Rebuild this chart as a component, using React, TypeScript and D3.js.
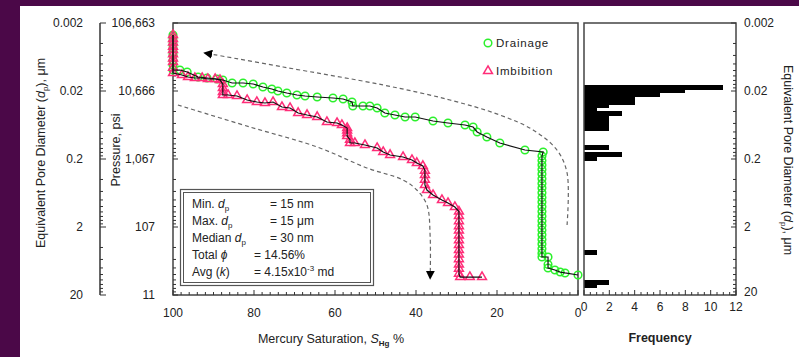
import React from 'react';
import * as d3 from 'd3';

const W = 799;
const H = 357;

// drainage (mercury injection): saturation %, pressure psi
const drainSat = [100, 100, 100, 100, 100, 100, 100, 100, 100, 100, 98.3, 96.5, 93.8, 91.6, 89.1, 87.7, 85.4, 82.7, 80.2, 77.8, 75.6, 74.1, 71.9, 69.4, 67.4, 64.4, 60.5, 58.0, 55.8, 55.6, 53.1, 51.4, 49.6, 47.7, 45.2, 42.7, 40.2, 35.8, 32.1, 27.9, 25.9, 24.9, 22.5, 19.3, 13.1, 8.6,
  8.9, 8.9, 8.9, 8.9, 8.9, 8.9, 8.9, 8.9, 8.9, 8.9, 8.9, 8.9, 8.9, 8.9, 8.9, 8.9, 8.9, 8.9, 8.9, 8.9, 8.9, 8.9, 8.9, 7.4, 7.4, 7.4, 5.7, 4.4, 3.2, 0];
const drainPres = [71050, 64000, 57000, 50650, 45000, 40000, 36090, 30000, 25730, 21720, 21700, 20300, 17140, 16570, 16010, 15480, 13990, 13990, 13520, 12210, 11410, 10670, 9970, 9316, 9006, 8706, 8416, 8135, 7350, 6418, 6418, 6418, 5998, 5066, 4734, 4424, 4424, 3863, 3610, 3373, 3152, 2662, 2247, 1834, 1447, 1352,
  1180, 1010, 870, 750, 640, 545, 465, 400, 340, 290, 248, 212, 180, 154, 131, 112, 96, 82, 70, 60, 51, 44, 38.6, 38.6, 30, 26.6, 24.9, 23.2, 22.5, 21.0];

// imbibition (mercury withdrawal)
const imbSat = [100, 100, 100, 100, 100, 100, 100, 100, 100, 100, 97.8, 96.3, 94.6, 92.8, 91.4, 89.6, 88.4, 87.7, 87.7, 87.7, 87.7, 86.4, 84.2, 81.7, 79.3, 77.3, 75.3, 73.1, 71.1, 69.1, 66.9, 64.4, 62.0, 59.5, 58.3, 57.0, 57.0, 57.0, 57.0, 56.3, 56.3, 55.1, 52.6, 49.6, 48.1, 46.4, 43.2, 41.0, 39.8, 38.3, 37.8, 37.8, 37.8, 37.8, 37.3, 35.8, 33.6, 32.1, 30.4,
  29.4, 29.4, 29.4, 29.4, 29.4, 29.4, 29.4, 29.4, 29.4, 29.4, 29.4, 29.4, 29.4, 29.4, 29.1, 26.7, 23.7];
const imbPres = [71050, 62000, 55000, 48000, 42760, 37000, 32000, 28480, 23500, 19620, 18340, 17140, 16570, 16570, 16010, 16010, 15480, 13500, 11800, 10300, 9316, 9316, 9006, 7865, 7350, 7105, 7350, 6205, 5998, 5066, 4734, 4424, 3734, 3610, 3373, 3047, 2800, 2550, 2324, 2050, 1834, 1834, 1714, 1548, 1352, 1222, 1141, 1031, 932, 842, 720, 621, 530, 443, 373, 315, 266, 240, 210,
  180, 155, 130, 110, 95, 80, 68, 58, 49, 42, 36, 30, 26, 22, 19.6, 19.6, 19.6];

// annotation arrows (saturation %, pressure psi)
const arrowUpSat = [2.7, 2.7, 5.2, 11.1, 19.3, 31.6, 48.1, 72.8, 92.1];
const arrowUpPres = [114, 664, 1447, 2848, 4734, 7865, 13070, 24040, 38630];
const arrowDownSat = [98.8, 81.0, 64.4, 52.1, 43.2, 39.8, 37.3, 36.5, 36.5];
const arrowDownPres = [6641, 3152, 1602, 787, 524, 373, 225, 76, 19];

// pore size histogram: bin upper diameter (µm) and frequency
const binTop = [0.0163, 0.0185, 0.0210, 0.0239, 0.0271, 0.0307, 0.0349, 0.0396, 0.0450, 0.0510, 0.0579, 0.0657, 0.124, 0.160, 0.181, 4.34, 11.96, 13.6];
const binCount = [11, 8, 6, 4, 4, 2, 1, 3, 2, 2, 2, 2, 2, 3, 1, 1, 2, 1];
const binLogWidth = 0.055;

// tick labels
const diamTicks = [0.002, 0.02, 0.2, 2, 20];
const diamLabels = ['0.002', '0.02', '0.2', '2', '20'];
const presTicks = [106663, 10666.3, 1066.63, 106.663, 10.6663];
const presLabels = ['106,663', '10,666', '1,067', '107', '11'];
const satTicks = [100, 80, 60, 40, 20, 0];
const freqTicks = [0, 2, 4, 6, 8, 10, 12];

const FONT = '"Liberation Sans", Arial, sans-serif';
const GREEN = '#2cf02c';
const PINK = '#ff2d78';

export default function App() {
  const x = d3.scaleLinear().domain([100, 0]).range([173, 578]);
  const yP = d3.scaleLog().domain([10.6663, 106663]).range([295, 23]);
  const yD = d3.scaleLog().domain([0.002, 20]).range([23, 295]);
  const xF = d3.scaleLinear().domain([0, 12]).range([584, 736]);

  const minorD = d3.range(4).flatMap(k => d3.range(2, 10).map(m => 0.002 * Math.pow(10, k) * m));
  const minorSat = d3.range(0, 101, 2).filter(v => v % 20 !== 0);
  const minorFreq = d3.range(0, 12.01, 0.5).filter(v => v % 2 !== 0);

  const drain: [number, number][] = drainSat.map((s, i) => [s, drainPres[i]]);
  const imb: [number, number][] = imbSat.map((s, i) => [s, imbPres[i]]);
  const line = d3.line<[number, number]>().x(d => x(d[0])).y(d => yP(d[1]));
  const curve = d3.line<[number, number]>().x(d => x(d[0])).y(d => yP(d[1])).curve(d3.curveCatmullRom);
  const arrowUp: [number, number][] = arrowUpSat.map((s, i) => [s, arrowUpPres[i]]);
  const arrowDown: [number, number][] = arrowDownSat.map((s, i) => [s, arrowDownPres[i]]);
  const tri = d3.symbol().type(d3.symbolTriangle).size(34)();

  const [top, bottom] = [23, 295];

  return (
    <svg width={W} height={H} style={{ position: 'absolute', left: 0, top: 0 }} fontFamily={FONT}>
      <defs>
        <marker id="ah" viewBox="0 0 10 10" refX="8" refY="5" markerWidth="9" markerHeight="9"
          markerUnits="userSpaceOnUse" orient="auto">
          <path d="M0,0L10,5L0,10Z" fill="#000" />
        </marker>
      </defs>
      <rect x={0} y={0} width={W} height={H} fill="#4b0848" />
      <rect x={20} y={6} width={W - 20} height={H - 6} fill="#fff" />

      {/* left pore diameter labels */}
      {diamTicks.map((d, i) => (
        <text key={'dl' + i} x={83} y={yD(d) + 4} textAnchor="end" fontSize={12} fill="#222">{diamLabels[i]}</text>
      ))}
      <text transform="translate(45,153) rotate(-90)" textAnchor="middle" fontSize={12.5} fill="#222">
        Equivalent Pore Diameter (<tspan fontStyle="italic">d</tspan><tspan fontSize={8} dy={3}>p</tspan><tspan dy={-3}>), μm</tspan>
      </text>

      {/* pressure axis */}
      <line x1={100} x2={100} y1={top} y2={bottom} stroke="#333" strokeWidth={1.5} />
      {presTicks.map((p, i) => (
        <g key={'pt' + i}>
          <line x1={100} x2={106} y1={yP(p)} y2={yP(p)} stroke="#333" />
          <text x={155} y={yP(p) + 4} textAnchor="end" fontSize={12} fill="#222">{presLabels[i]}</text>
        </g>
      ))}
      {minorD.map((d, i) => (
        <line key={'pm' + i} x1={100} x2={103} y1={yD(d)} y2={yD(d)} stroke="#333" />
      ))}
      <text transform="translate(120,150) rotate(-90)" textAnchor="middle" fontSize={12.5} fill="#222">Pressure, psi</text>

      {/* main plot frame */}
      <rect x={173} y={top} width={405} height={bottom - top} fill="none" stroke="#444" strokeWidth={1.5} />
      {diamTicks.map((d, i) => (
        <line key={'lm' + i} x1={173} x2={178} y1={yD(d)} y2={yD(d)} stroke="#333" />
      ))}
      {minorD.map((d, i) => (
        <line key={'ln' + i} x1={173} x2={176} y1={yD(d)} y2={yD(d)} stroke="#333" />
      ))}
      {satTicks.map(s => (
        <g key={'st' + s}>
          <line x1={x(s)} x2={x(s)} y1={bottom} y2={bottom - 5} stroke="#333" />
          <text x={x(s)} y={317} textAnchor="middle" fontSize={12} fill="#222">{s}</text>
        </g>
      ))}
      {minorSat.map(s => (
        <line key={'sm' + s} x1={x(s)} x2={x(s)} y1={bottom} y2={bottom - 3} stroke="#333" />
      ))}
      <text x={331} y={343} textAnchor="middle" fontSize={12.5} fill="#222">
        Mercury Saturation, <tspan fontStyle="italic">S</tspan><tspan fontSize={8} fontWeight="bold" dy={3}>Hg</tspan><tspan dy={-3}> %</tspan>
      </text>

      {/* dashed arrows */}
      <path d={curve(arrowUp) || ''} fill="none" stroke="#666" strokeWidth={1.2} strokeDasharray="4 3" markerEnd="url(#ah)" />
      <path d={curve(arrowDown) || ''} fill="none" stroke="#666" strokeWidth={1.2} strokeDasharray="4 3" markerEnd="url(#ah)" />

      {/* drainage */}
      {drain.map((d, i) => (
        <circle key={'dc' + i} cx={x(d[0])} cy={yP(d[1])} r={3.8} fill="none" stroke={GREEN} strokeWidth={1.5} />
      ))}
      {/* imbibition */}
      {imb.map((d, i) => (
        <path key={'it' + i} d={tri || ''} transform={`translate(${x(d[0])},${yP(d[1])})`} fill="none" stroke={PINK} strokeWidth={1.5} />
      ))}
      <path d={line(drain) || ''} fill="none" stroke="#111" strokeWidth={1.2} />
      <path d={line(imb) || ''} fill="none" stroke="#111" strokeWidth={1.2} />

      {/* legend */}
      <circle cx={488} cy={43} r={3.8} fill="none" stroke={GREEN} strokeWidth={1.5} />
      <text x={496} y={47} fontSize={11.5} letterSpacing={0.8} fill="#222">Drainage</text>
      <path d={tri || ''} transform="translate(488,71)" fill="none" stroke={PINK} strokeWidth={1.5} />
      <text x={496} y={75} fontSize={11.5} letterSpacing={0.8} fill="#222">Imbibition</text>

      {/* stats box */}
      <rect x={180.5} y={189.5} width={193} height={96} fill="#fff" stroke="#555" strokeWidth={1.2} />
      <rect x={183.5} y={192.5} width={187} height={90} fill="none" stroke="#555" strokeWidth={1} />
      <g fontSize={12} fill="#222">
        <text x={192} y={208}>Min. <tspan fontStyle="italic">d</tspan><tspan fontSize={8} dy={3}>p</tspan></text>
        <text x={270} y={208}>= 15 nm</text>
        <text x={192} y={225}>Max. <tspan fontStyle="italic">d</tspan><tspan fontSize={8} dy={3}>p</tspan></text>
        <text x={270} y={225}>= 15 μm</text>
        <text x={192} y={242}>Median <tspan fontStyle="italic">d</tspan><tspan fontSize={8} dy={3}>p</tspan></text>
        <text x={270} y={242}>= 30 nm</text>
        <text x={192} y={259}>Total <tspan fontStyle="italic">ϕ</tspan></text>
        <text x={254} y={259}>= 14.56%</text>
        <text x={192} y={276}>Avg (<tspan fontStyle="italic">k</tspan>)</text>
        <text x={254} y={276}>= 4.15x10<tspan fontSize={8} dy={-5}>-3</tspan><tspan dy={5}> md</tspan></text>
      </g>

      {/* histogram */}
      <g shapeRendering="crispEdges">
        {binTop.map((d, i) => {
          const y0 = Math.round(yD(d));
          const y1 = Math.round(yD(d * Math.pow(10, binLogWidth)));
          return <rect key={'b' + i} x={xF(0)} y={y0} width={xF(binCount[i]) - xF(0)} height={y1 - y0 + 0.5} fill="#000" />;
        })}
      </g>
      <rect x={584} y={top} width={152} height={bottom - top} fill="none" stroke="#444" strokeWidth={1.5} />
      {diamTicks.map((d, i) => (
        <g key={'rt' + i}>
          <line x1={736} x2={731} y1={yD(d)} y2={yD(d)} stroke="#333" />
          <text x={744} y={yD(d) + (i === 4 ? 1 : 4)} fontSize={12} fill="#222">{diamLabels[i]}</text>
        </g>
      ))}
      {minorD.map((d, i) => (
        <line key={'rm' + i} x1={736} x2={733} y1={yD(d)} y2={yD(d)} stroke="#333" />
      ))}
      {freqTicks.map(f => (
        <g key={'ft' + f}>
          <line x1={xF(f)} x2={xF(f)} y1={bottom} y2={bottom - 5} stroke="#333" />
          <text x={xF(f)} y={311} textAnchor="middle" fontSize={12} fill="#222">{f}</text>
        </g>
      ))}
      {minorFreq.map(f => (
        <line key={'fm' + f} x1={xF(f)} x2={xF(f)} y1={bottom} y2={bottom - 3} stroke="#333" />
      ))}
      <text x={660} y={342} textAnchor="middle" fontSize={12.5} fontWeight="bold" fill="#222">Frequency</text>
      <text transform="translate(784,160) rotate(90)" textAnchor="middle" fontSize={12.5} fill="#222">
        Equivalent Pore Diameter (<tspan fontStyle="italic">d</tspan><tspan fontSize={8} dy={3}>p</tspan><tspan dy={-3}>), μm</tspan>
      </text>
    </svg>
  );
}
